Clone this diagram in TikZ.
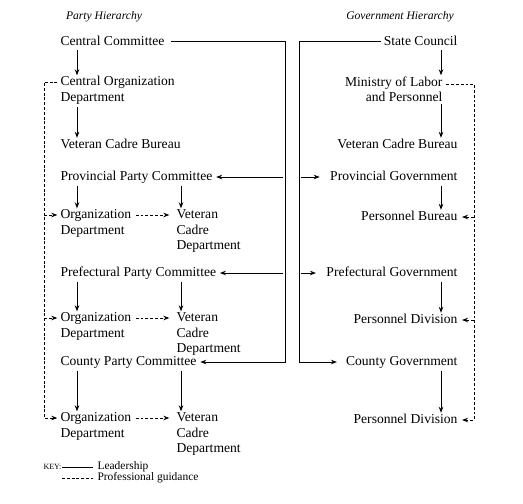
\documentclass[tikz,border=0pt]{standalone}
\usepackage{fontspec}
\setmainfont{Liberation Serif}
\usetikzlibrary{arrows.meta,calc}

\tikzset{every picture/.style={line width=0.75pt}}
\tikzset{
  unit/.style={inner sep=0pt, font=\fontsize{10.2}{11.8}\selectfont},
  one/.style={unit, text height=7pt, text depth=2pt},
  unitl/.style={unit, align=left},
  unitr/.style={unit, align=right},
  hdr/.style={inner sep=0pt, font=\fontsize{8.7}{10}\selectfont\itshape},
  keytext/.style={inner sep=0pt, font=\fontsize{8.6}{10}\selectfont},
  gdash/.style={dash pattern=on 2.2pt off 1.4pt},
  lead/.style={-{Stealth[length=4.5pt,width=3.4pt]}, shorten <=1.5pt, shorten >=0.5pt},
  guide/.style={gdash, -{Stealth[length=4.5pt,width=3.4pt]}},
}

\begin{document}
\begin{tikzpicture}[x=0.75pt,y=0.75pt,yscale=-1,xscale=1]
    \useasboundingbox (0,0) rectangle (523,503);

    % Party side
    \node[hdr] (phdr) at (104,17) {Party Hierarchy};
    \node[one, anchor=west] (cc) at (60,42) {Central Committee};
    \node[unitl, anchor=north west] (cod) at (60,76) {Central Organization\\Department};
    \node[one, anchor=west] (pvcb) at (60,145) {Veteran Cadre Bureau};
    \node[one, anchor=west] (ppc) at (60,177) {Provincial Party Committee};
    \node[unitl, anchor=north west] (orga) at (60,209) {Organization\\Department};
    \node[unitl, anchor=north west] (vcda) at (176,209) {Veteran\\Cadre\\Department};
    \node[one, anchor=west] (fpc) at (60,273) {Prefectural Party Committee};
    \node[unitl, anchor=north west] (orgb) at (60,312) {Organization\\Department};
    \node[unitl, anchor=north west] (vcdb) at (176,312) {Veteran\\Cadre\\Department};
    \node[one, anchor=west] (cpc) at (60,362) {County Party Committee};
    \node[unitl, anchor=north west] (orgc) at (60,412) {Organization\\Department};
    \node[unitl, anchor=north west] (vcdc) at (176,412) {Veteran\\Cadre\\Department};

    % Government side
    \node[hdr] (ghdr) at (400,17) {Government Hierarchy};
    \node[one, anchor=east] (sc) at (458,42) {State Council};
    \node[unitr, anchor=north east] (mlp) at (443,76) {Ministry of Labor\\and Personnel};
    \node[one, anchor=east] (gvcb) at (458,145) {Veteran Cadre Bureau};
    \node[one, anchor=east] (pg) at (458,177) {Provincial Government};
    \node[one, anchor=east] (pb) at (458,217) {Personnel Bureau};
    \node[one, anchor=east] (fg) at (458,273) {Prefectural Government};
    \node[one, anchor=east] (pd1) at (458,320) {Personnel Division};
    \node[one, anchor=east] (cg) at (458,362) {County Government};
    \node[one, anchor=east] (pd2) at (458,420) {Personnel Division};

    % Key
    \node[keytext, anchor=west] (key) at (43,467) {\fontsize{6}{7}\selectfont KEY:};
    \node[keytext, anchor=west] (kl) at (97,467) {Leadership};
    \node[keytext, anchor=west] (kg) at (97,478) {Professional guidance};

    % columns and first lines
    \coordinate (lx) at (77,0);
    \coordinate (mx) at (181,0);
    \coordinate (gx) at (441,0);
    \coordinate (lbar) at (285,0);
    \coordinate (rbar) at (299,0);
    \coordinate (dl) at (44,0);
    \coordinate (dr) at (474,0);
    \coordinate (codl) at ($(cod.north west)+(0,6)$);
    \coordinate (mlpr) at ($(mlp.north east)+(0,8)$);
    \coordinate (orgal) at ($(orga.north west)+(0,6)$);
    \coordinate (orgar) at ($(orga.north east)+(0,6)$);
    \coordinate (vcdal) at ($(vcda.north west)+(0,6)$);
    \coordinate (orgbl) at ($(orgb.north west)+(0,6)$);
    \coordinate (orgbr) at ($(orgb.north east)+(0,6)$);
    \coordinate (vcdbl) at ($(vcdb.north west)+(0,6)$);
    \coordinate (orgcl) at ($(orgc.north west)+(0,6)$);
    \coordinate (orgcr) at ($(orgc.north east)+(0,6)$);
    \coordinate (vcdcl) at ($(vcdc.north west)+(0,6)$);

    % Leadership, down the columns
    \draw[lead] (cc.south -| lx) -- (cod.north -| lx);
    \draw[lead] (cod.south -| lx) -- (pvcb.north -| lx);
    \draw[lead] (ppc.south -| lx) -- (orga.north -| lx);
    \draw[lead] (ppc.south -| mx) -- (vcda.north -| mx);
    \draw[lead] (fpc.south -| lx) -- (orgb.north -| lx);
    \draw[lead] (fpc.south -| mx) -- (vcdb.north -| mx);
    \draw[lead] (cpc.south -| lx) -- (orgc.north -| lx);
    \draw[lead] (cpc.south -| mx) -- (vcdc.north -| mx);
    \draw[lead] (sc.south -| gx) -- (mlp.north -| gx);
    \draw[lead] (mlp.south -| gx) -- (gvcb.north -| gx);
    \draw[lead] (pg.south -| gx) -- (pb.north -| gx);
    \draw[lead] (fg.south -| gx) -- (pd1.north -| gx);
    \draw[lead] (cg.south -| gx) -- (pd2.north -| gx);

    % Leadership, the two bars
    \draw[lead, shorten <=0pt] ([xshift=4.5pt]cc.east) -- (cc.east -| lbar) -- (cpc.east -| lbar) -- ([xshift=2pt]cpc.east);
    \draw[lead] (ppc.east -| lbar) -- ([xshift=2pt]ppc.east);
    \draw[lead] (fpc.east -| lbar) -- ([xshift=2pt]fpc.east);
    \draw[lead, shorten <=0pt] ([xshift=-2pt]sc.west) -- (sc.west -| rbar) -- (cg.west -| rbar) -- ([xshift=-6pt]cg.west);
    \draw[lead] (pg.west -| rbar) -- ([xshift=-7pt]pg.west);
    \draw[lead] (fg.west -| rbar) -- ([xshift=-7pt]fg.west);

    % Professional guidance
    \draw[guide] ([xshift=-2pt]codl) -| (dl |- orgcl) -- ([xshift=-2pt]orgcl);
    \draw[guide] (dl |- orgal) -- ([xshift=-2pt]orgal);
    \draw[guide] (dl |- orgbl) -- ([xshift=-2pt]orgbl);
    \draw[guide] ([xshift=3pt]orgar) -- ([xshift=-5pt]vcdal);
    \draw[guide] ([xshift=3pt]orgbr) -- ([xshift=-5pt]vcdbl);
    \draw[guide] ([xshift=3pt]orgcr) -- ([xshift=-5pt]vcdcl);
    \draw[guide] ([xshift=2.5pt]mlpr) -| (dr |- pd2.east) -- ([xshift=3pt]pd2.east);
    \draw[guide] (dr |- pb.east) -- ([xshift=3pt]pb.east);
    \draw[guide] (dr |- pd1.east) -- ([xshift=3pt]pd1.east);

    % Key lines
    \draw ($(kl.west)+(-35,0)$) -- ($(kl.west)+(-4,0)$);
    \draw[gdash] ($(kg.west)+(-35,0)$) -- ($(kg.west)+(-4,0)$);
\end{tikzpicture}
\end{document}
